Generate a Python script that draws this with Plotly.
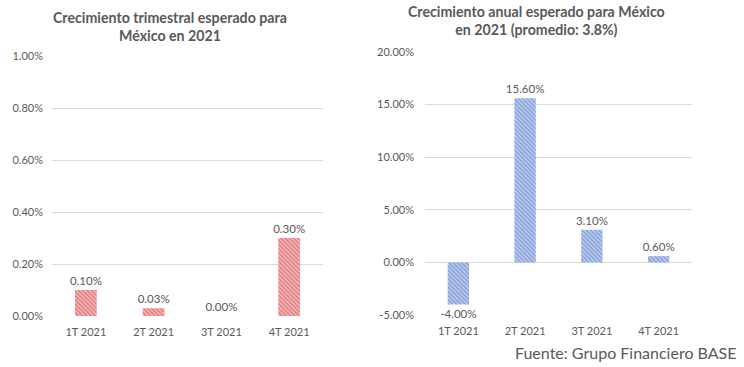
import plotly.graph_objects as go

categories = ["1T 2021", "2T 2021", "3T 2021", "4T 2021"]
trimestral = [0.10, 0.03, 0.00, 0.30]
anual = [-4.00, 15.60, 3.10, 0.60]
left_ticks = [0.0, 0.2, 0.4, 0.6, 0.8, 1.0]
right_ticks = [-5, 0, 5, 10, 15, 20]
title_left = "Crecimiento trimestral esperado para<br>México en 2021"
title_right = "Crecimiento anual esperado para México<br>en 2021 (promedio: 3.8%)"
source = "Fuente: Grupo Financiero BASE"

FONT = "Lato, Open Sans, sans-serif"
GRAY = "#595959"
GRID = "#D9D9D9"

W, H = 744, 367
def px(x):
    return x / W
def py(y):
    return (H - y) / H

fig = go.Figure()
fig.add_trace(go.Bar(
    x=categories, y=trimestral, width=0.32,
    marker=dict(color="white", line=dict(width=0),
                pattern=dict(shape="\\", fgcolor="#D62F33", bgcolor="#F6D3D4", size=3, solidity=0.7)),
    texttemplate="%{y:.2f}%", textposition="outside", cliponaxis=False, constraintext="none",
    textfont=dict(color=GRAY, size=11.5, family=FONT),
    xaxis="x", yaxis="y", showlegend=False))
fig.add_trace(go.Bar(
    x=categories, y=anual, width=0.32,
    marker=dict(color="white", line=dict(width=0),
                pattern=dict(shape="\\", fgcolor="#3F6BC4", bgcolor="#D6E0F3", size=3, solidity=0.7)),
    texttemplate="%{y:.2f}%", textposition="outside", cliponaxis=False, constraintext="none",
    textfont=dict(color=GRAY, size=11.5, family=FONT),
    xaxis="x2", yaxis="y2", showlegend=False))

axis_common = dict(showline=False, ticks="", automargin=False,
                   tickfont=dict(color=GRAY, size=11, family=FONT))
fig.update_layout(
    width=W, height=H, margin=dict(l=0, r=0, t=0, b=0),
    paper_bgcolor="white", plot_bgcolor="white",
    font=dict(family=FONT, color=GRAY),
    xaxis=dict(domain=[px(52), px(323)], anchor="y", showgrid=False, ticklabelstandoff=8,
               **axis_common),
    yaxis=dict(domain=[py(316), py(56)], anchor="x", range=[0, 1.0], tickvals=left_ticks,
               ticktext=[f"{v:.2f}%" for v in left_ticks], ticklabelstandoff=8,
               showgrid=True, gridcolor=GRID, zeroline=False, **axis_common),
    xaxis2=dict(domain=[px(425), px(692)], anchor="y2", showgrid=False, ticklabelstandoff=8,
                **axis_common),
    yaxis2=dict(domain=[py(315), py(52)], anchor="x2", range=[-5, 20], tickvals=right_ticks,
                ticktext=[f"{v:.2f}%" for v in right_ticks], ticklabelstandoff=10,
                showgrid=True, gridcolor=GRID, zeroline=True,
                zerolinecolor=GRID, zerolinewidth=1, **axis_common),
    annotations=[
        dict(text="<b>" + title_left + "</b>", x=px(170), y=py(26), xref="paper", yref="paper",
             xanchor="center", yanchor="middle",
             showarrow=False, font=dict(size=14.2, color=GRAY, family=FONT), align="center"),
        dict(text="<b>" + title_right + "</b>", x=px(536), y=py(21), xref="paper", yref="paper",
             xanchor="center", yanchor="middle",
             showarrow=False, font=dict(size=14.2, color=GRAY, family=FONT), align="center"),
        dict(text=source, x=px(739), y=py(352), xref="paper", yref="paper",
             xanchor="right", yanchor="middle",
             showarrow=False, font=dict(size=16, color=GRAY, family=FONT)),
    ],
)
fig.write_html("out.html", config={"displayModeBar": False},
               post_script="document.body.style.margin='0';")
